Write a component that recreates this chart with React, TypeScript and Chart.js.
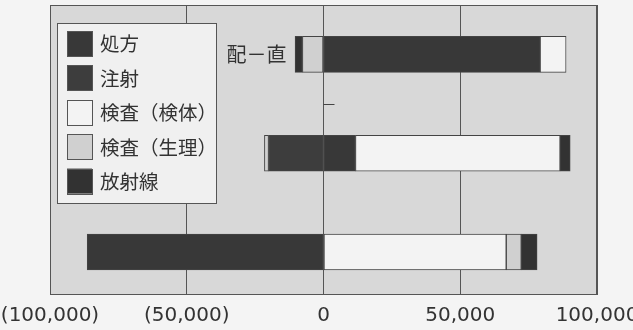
import React, { useEffect, useRef } from 'react';
import { Chart, registerables } from 'chart.js';

Chart.register(...registerables);

const categories = ['配－直', '', '直接'];
const seriesNames = ['処方', '注射', '検査（検体）', '検査（生理）', '放射線'];
const shohou = [79200, 11700, -86400];
const chusha = [0, -20100, 0];
const kentai = [9500, 74800, 66800];
const seiri = [-7700, -1500, 5500];
const houshasen = [-2700, 3700, 5800];
const seriesValues = [shohou, chusha, kentai, seiri, houshasen];
const seriesColors = ['#383838', '#3d3d3d', '#f3f3f3', '#d0d0d0', '#323232'];
const xTicks = [-100000, -50000, 0, 50000, 100000];

const JP_FONT = '"Noto Sans CJK JP", "Noto Sans", sans-serif';

function fmt(v: number): string {
  const s = Math.abs(v).toLocaleString('en-US');
  return v < 0 ? `(${s})` : s;
}

const decorPlugin = {
  id: 'decor',
  beforeDraw(chart: any) {
    const { ctx, chartArea: a } = chart;
    ctx.save();
    ctx.fillStyle = '#d8d8d8';
    ctx.fillRect(a.left, a.top, a.right - a.left, a.bottom - a.top);
    ctx.restore();
  },
  beforeDatasetsDraw(chart: any) {
    const { ctx } = chart;
    const xs = chart.scales.x;
    const ys = chart.scales.y;
    const x0 = xs.getPixelForValue(0);
    ctx.save();
    ctx.font = `20px ${JP_FONT}`;
    ctx.fillStyle = '#333';
    ctx.textAlign = 'center';
    ctx.textBaseline = 'middle';
    categories.forEach((c, i) => {
      ctx.fillText(c, x0 - 67, ys.getPixelForValue(i));
    });
    // category tick mark on zero axis
    ctx.strokeStyle = '#444';
    ctx.lineWidth = 1;
    const ty = Math.round(ys.getPixelForValue(0.5)) + 0.5;
    ctx.beginPath();
    ctx.moveTo(x0, ty);
    ctx.lineTo(x0 + 11, ty);
    ctx.stroke();
    ctx.restore();
  },
  afterDatasetsDraw(chart: any) {
    const { ctx, chartArea: a } = chart;
    ctx.save();
    ctx.strokeStyle = '#555';
    ctx.lineWidth = 1;
    ctx.strokeRect(a.left + 0.5, a.top + 0.5, a.right - a.left - 1, a.bottom - a.top);
    ctx.restore();
  },
  afterDraw(chart: any) {
    const { ctx } = chart;
    const lx = 57, ly = 23, lw = 159, lh = 180;
    ctx.save();
    ctx.fillStyle = '#f0f0f0';
    ctx.fillRect(lx, ly, lw, lh);
    ctx.strokeStyle = '#555';
    ctx.lineWidth = 1;
    ctx.strokeRect(lx + 0.5, ly + 0.5, lw, lh);
    ctx.font = `19.5px ${JP_FONT}`;
    ctx.textAlign = 'left';
    ctx.textBaseline = 'middle';
    chart.data.datasets.forEach((ds: any, i: number) => {
      const sy = 31 + i * 34.4;
      ctx.fillStyle = ds.backgroundColor;
      ctx.fillRect(67, sy, 25, 25);
      ctx.strokeStyle = '#555';
      ctx.strokeRect(67.5, Math.round(sy) + 0.5, 25, 25);
      ctx.fillStyle = '#333';
      ctx.fillText(ds.label, 100, sy + 13);
    });
    ctx.restore();
  },
};

export default function App() {
  const ref = useRef<HTMLCanvasElement>(null);
  useEffect(() => {
    if (!ref.current) return;
    const chart = new Chart(ref.current, {
      type: 'bar',
      data: {
        datasets: seriesNames.map((name, si) => ({
          label: name,
          data: seriesValues[si].map((v, i) => ({ x: v, y: i })),
          backgroundColor: seriesColors[si],
          borderColor: '#444',
          borderWidth: 1,
          borderSkipped: false,
          barThickness: 36,
        })),
      },
      options: {
        indexAxis: 'y',
        animation: false,
        responsive: false,
        devicePixelRatio: 1,
        layout: { padding: { left: 50, right: 36, top: 5, bottom: -8 } },
        plugins: { legend: { display: false }, tooltip: { enabled: false } },
        scales: {
          x: {
            type: 'linear',
            stacked: true,
            min: -100000,
            max: 100000,
            afterBuildTicks: (scale: any) => {
              scale.ticks = xTicks.map((v) => ({ value: v }));
            },
            afterFit: (scale: any) => {
              scale.paddingLeft = 0;
              scale.paddingRight = 0;
            },
            grid: { color: '#555', lineWidth: 1, drawTicks: false },
            border: { display: true, color: '#555' },
            ticks: {
              padding: 10,
              color: '#333',
              font: { family: '"DejaVu Sans", sans-serif', size: 20 },
              callback: (v: any) => fmt(Number(v)),
              maxRotation: 0,
              autoSkip: false,
            },
          },
          y: {
            type: 'linear',
            stacked: true,
            reverse: true,
            offset: false,
            min: -0.5,
            max: 2.425,
            display: false,
          },
        },
      },
      plugins: [decorPlugin],
    } as any);
    return () => chart.destroy();
  }, []);
  return (
    <div style={{ position: 'fixed', left: 0, top: 0, width: 633, height: 330, background: '#f4f4f4', overflow: 'hidden' }}>
      <canvas ref={ref} width={633} height={330} />
    </div>
  );
}
